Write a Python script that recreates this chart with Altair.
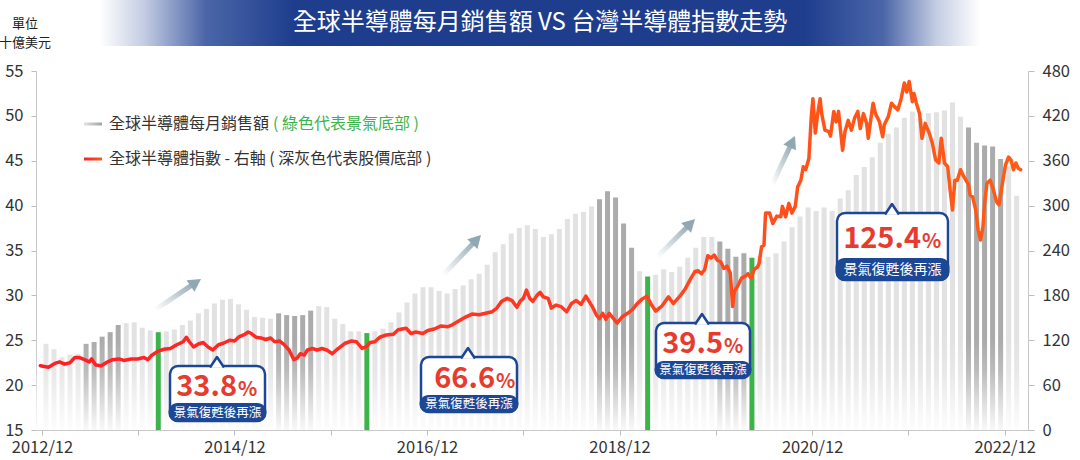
import json
import altair as alt
import pandas as pd

FONT = "Noto Sans CJK TC"
BLUE = "#1c4795"
RED = "#e63b2e"
LIGHT = "#e2e2e2"
DARK = "#ababab"
GREEN = "#3cb44b"

# ---------------- data ----------------
# bar months: 1 = first month after 2012/12
months = list(range(1, 123))
sales = [24.6, 24.0, 23.1, 23.4, 23.5, 24.6, 24.8, 25.4, 25.9, 26.7,
         26.9, 27.0, 26.4, 26.1, 25.9, 26.0, 26.2, 26.7, 27.2, 28.0,
         28.5, 29.1, 29.5, 29.6, 29.0, 28.4, 27.6, 27.5, 27.4, 28.0,
         27.8, 27.7, 27.8, 28.3, 28.8, 28.7, 27.4, 26.8, 26.0, 26.0,
         25.8, 26.0, 26.3, 27.0, 28.1, 29.2, 30.2, 30.9, 30.9, 30.5,
         30.2, 30.7, 31.1, 31.8, 32.4, 33.4, 34.8, 35.7, 36.9, 37.5,
         37.8, 37.4, 36.5, 36.8, 37.4, 38.5, 39.1, 39.3, 39.9, 40.7,
         41.6, 40.9, 38.0, 35.3, 32.7, 32.1, 32.3, 32.9, 32.6, 33.2,
         34.2, 35.3, 36.5, 36.5, 36.0, 35.2, 34.3, 34.7, 34.2, 34.4,
         34.3, 34.7, 36.0, 37.6, 38.8, 39.8, 39.4, 39.8, 39.4, 40.8,
         41.7, 43.4, 44.3, 45.4, 47.0, 48.0, 48.7, 49.8, 50.5, 49.7,
         50.3, 50.4, 50.6, 51.5, 49.9, 48.7, 47.0, 46.7, 46.6, 45.2,
         44.4, 41.1]
stock_bottom_months = [6, 7, 8, 9, 10, 30, 31, 32, 33, 34, 70, 71, 72, 73, 74,
                       85, 86, 87, 88, 116, 117, 118, 119, 120]
cycle_bottom_months = [15, 41, 76, 89]

# semiconductor index: (months after 2012/12, index value)
index_points = [
    (-0.2, 86), (0.8, 84), (1.6, 89), (2.2, 91), (2.8, 88), (3.5, 90), (4.1, 97), (4.6, 97),
    (5.3, 94), (5.9, 91), (6.2, 95), (6.7, 87), (7.4, 86), (8.0, 90), (8.8, 94), (9.6, 95),
    (10.2, 93), (11.1, 95), (11.9, 95), (12.7, 97), (13.2, 94), (13.7, 100), (14.4, 105),
    (15.2, 108), (16.0, 109), (16.8, 114), (17.6, 118), (18.0, 124), (18.3, 119), (18.9, 111),
    (19.5, 115), (20.1, 117), (20.7, 111), (21.3, 107), (22.0, 114), (22.6, 116), (23.4, 120),
    (24.0, 119), (24.6, 125), (25.3, 128), (25.7, 131), (26.1, 129), (26.7, 124), (27.3, 123),
    (27.9, 121), (28.5, 123), (29.0, 118), (29.6, 119), (30.2, 114), (30.8, 107), (31.4, 94),
    (31.8, 96), (32.2, 102), (32.7, 100), (33.1, 107), (33.7, 109), (34.3, 107), (34.9, 109),
    (35.5, 107), (36.2, 102), (36.6, 106), (37.2, 111), (37.8, 116), (38.6, 119), (39.2, 118),
    (39.9, 109), (40.4, 111), (40.9, 117), (41.5, 118), (42.1, 124), (42.9, 127), (43.8, 128),
    (44.4, 134), (45.4, 136), (46.0, 129), (46.6, 131), (47.5, 129), (48.1, 133), (48.9, 135),
    (49.7, 139), (50.6, 138), (51.2, 141), (52.0, 146), (52.8, 151), (53.6, 155), (54.5, 154),
    (55.3, 156), (56.1, 158), (56.7, 163), (57.3, 172), (58.0, 176), (58.6, 173), (59.2, 164),
    (59.6, 172), (60.0, 176), (60.4, 187), (60.8, 176), (61.2, 172), (61.7, 180), (62.1, 184),
    (62.5, 178), (63.1, 176), (63.5, 163), (64.1, 167), (64.7, 165), (65.4, 158), (66.0, 169),
    (66.6, 173), (67.2, 168), (67.8, 179), (68.2, 172), (68.6, 165), (69.1, 154), (69.5, 149),
    (69.9, 156), (70.3, 148), (70.7, 156), (71.1, 151), (71.7, 143), (72.3, 151), (73.0, 156),
    (73.6, 161), (74.2, 169), (74.8, 175), (75.4, 179), (76.0, 167), (76.5, 159), (77.3, 166),
    (78.1, 178), (78.7, 169), (79.6, 180), (80.2, 189), (80.8, 201), (81.4, 212), (81.8, 213),
    (82.2, 209), (82.6, 214), (83.0, 233), (83.4, 230), (83.8, 234), (84.2, 227), (84.6, 225),
    (85.0, 216), (85.4, 219), (85.8, 210), (86.1, 165), (86.3, 185), (86.7, 192), (87.2, 203),
    (87.6, 205), (88.0, 209), (88.4, 203), (88.8, 215), (89.2, 218), (89.4, 223), (89.7, 245),
    (90.0, 247), (90.2, 290), (90.7, 290), (91.1, 276), (91.6, 286), (92.1, 285), (92.3, 299),
    (92.7, 285), (93.1, 303), (93.5, 290), (93.9, 299), (94.2, 325), (94.6, 334), (94.9, 352),
    (95.2, 348), (95.6, 363), (95.9, 419), (96.1, 443), (96.4, 397), (96.7, 423), (97.0, 443),
    (97.2, 423), (97.6, 401), (98.1, 399), (98.3, 393), (98.7, 426), (99.0, 412), (99.3, 426),
    (99.8, 374), (100.1, 399), (100.5, 414), (100.9, 401), (101.3, 417), (101.7, 426),
    (102.0, 403), (102.4, 423), (102.8, 410), (103.0, 390), (103.3, 414), (103.6, 437),
    (103.9, 423), (104.4, 412), (104.8, 392), (105.0, 408), (105.5, 419), (105.9, 437),
    (106.3, 432), (106.7, 428), (107.1, 443), (107.5, 464), (107.8, 452), (108.1, 466),
    (108.5, 439), (108.7, 450), (109.0, 437), (109.4, 423), (109.7, 390), (110.1, 410),
    (110.6, 397), (111.0, 383), (111.4, 361), (111.8, 357), (112.1, 390), (112.5, 357),
    (112.9, 352), (113.2, 321), (113.5, 294), (113.8, 334), (114.1, 334), (114.5, 348),
    (114.9, 339), (115.5, 328), (115.7, 314), (116.0, 312), (116.4, 294), (116.7, 267),
    (117.0, 254), (117.3, 272), (117.5, 303), (117.8, 330), (118.2, 334), (118.6, 321),
    (119.0, 305), (119.3, 301), (119.7, 328), (120.1, 354), (120.5, 365), (120.8, 361),
    (121.1, 348), (121.4, 357), (121.7, 350), (122.0, 348),
]

tick_labels = ["2012/12", "2014/12", "2016/12", "2018/12", "2020/12", "2022/12"]
callout_values = ["33.8", "66.6", "39.5", "125.4"]
callout_caption = "景氣復甦後再漲"
title_text = "全球半導體每月銷售額 VS 台灣半導體指數走勢"
legend_sales = "全球半導體每月銷售額"
legend_sales_note = "( 綠色代表景氣底部 )"
legend_index = "全球半導體指數 - 右軸 ( 深灰色代表股價底部 )"

# ---------------- tables ----------------
kind = []
for m in months:
    if m in cycle_bottom_months:
        kind.append("cycle")
    elif m in stock_bottom_months:
        kind.append("stock")
    else:
        kind.append("normal")
bars_df = pd.DataFrame({"t": [m - 0.5 for m in months], "v": sales, "kind": kind})
line_df = pd.DataFrame(index_points, columns=["t", "idx"])
one = pd.DataFrame({"k": [0]})

# ---------------- layout helpers ----------------
W, H = 992, 359
OX, OY = 36, 71


def px(x):
    return alt.value(x - OX)


def py(y):
    return alt.value(y - OY)


def grad(stops, x1=0, y1=0, x2=1, y2=0):
    return {"gradient": "linear", "x1": x1, "y1": y1, "x2": x2, "y2": y2,
            "stops": [{"offset": o, "color": c} for o, c in stops]}


def rect(x1, y1, x2, y2, **mk):
    return alt.Chart(one).mark_rect(**mk).encode(x=px(x1), x2=px(x2), y=py(y1), y2=py(y2))


def text(x, y, s, **mk):
    mk.setdefault("font", FONT)
    return alt.Chart(one).mark_text(text=s, **mk).encode(x=px(x), y=py(y))


# ---------------- scales / axes ----------------
xscale = alt.Scale(domain=[-0.12, 122.29], nice=False, zero=False)
label_expr = ("datum.value % 24 === 0 ? " + json.dumps(tick_labels) +
              "[round(datum.value / 24)] : ''")
xaxis = alt.Axis(values=list(range(0, 121, 12)), labelExpr=label_expr, grid=False,
                 tickSize=5, tickColor="#bdbdbd", domainColor="#c8c8c8", labelFontSize=16.5,
                 labelColor="#333333", labelPadding=4, labelFlush=False, labelOverlap=False,
                 title=None, zindex=1)
yscale = alt.Scale(domain=[15, 55], nice=False, zero=False)
yaxis = alt.Axis(values=list(range(15, 56, 5)), orient="left", grid=False, tickSize=5,
                 tickColor="#bdbdbd", domainColor="#c8c8c8", labelFontSize=16.5,
                 labelColor="#333333", labelPadding=8, title=None)
y2scale = alt.Scale(domain=[0, 480], nice=False, zero=True)
y2axis = alt.Axis(values=list(range(0, 481, 60)), orient="right", grid=False, tickSize=6,
                  tickColor="#bdbdbd", domainColor="#c8c8c8", labelFontSize=16.5,
                  labelColor="#333333", labelPadding=8, title=None)

# ---------------- bars ----------------
bars = alt.Chart(bars_df).transform_filter(alt.datum.kind != "cycle").mark_bar(size=5).encode(
    x=alt.X("t:Q", scale=xscale, axis=xaxis),
    y=alt.Y("v:Q", scale=yscale, axis=yaxis),
    y2=alt.datum(15),
    color=alt.Color("kind:N", scale=alt.Scale(domain=["normal", "stock"], range=[LIGHT, DARK]),
                    legend=None),
)
fade = alt.Chart(one).mark_rect(
    fill=grad([(0, "rgba(255,255,255,0)"), (0.35, "rgba(255,255,255,0.2)"),
               (0.7, "rgba(255,255,255,0.6)"), (1, "rgba(255,255,255,0.93)")],
              x1=0, y1=0, x2=0, y2=1)
).encode(x=alt.value(0), x2=alt.value(W), y=alt.value(268), y2=alt.value(H))
green = alt.Chart(bars_df).transform_filter(alt.datum.kind == "cycle").mark_bar(
    size=5, color=GREEN).encode(
    x=alt.X("t:Q", scale=xscale),
    y=alt.Y("v:Q", scale=yscale),
    y2=alt.datum(15),
)
left = alt.layer(bars, fade, green)

line = alt.Chart(line_df).mark_line(
    stroke=grad([(0, "#ff1e26"), (0.55, "#ff3a22"), (0.8, "#ff5419"), (1, "#ff5a16")]),
    strokeWidth=3.5, strokeJoin="round", strokeCap="round",
).encode(
    x=alt.X("t:Q", scale=xscale),
    y=alt.Y("idx:Q", scale=y2scale, axis=y2axis),
)

# ---------------- decorations ----------------
decor = []
# title banner
decor.append(rect(100, 0, 980, 46, fill=grad([
    (0, "#ffffff"), (0.05, "#c3cce2"), (0.12, "#4b66a8"), (0.22, "#1e3d8d"),
    (0.80, "#1e3d8d"), (0.89, "#4b66a8"), (0.95, "#c3cce2"), (1, "#ffffff")])))
decor.append(text(540, 23, title_text, fontSize=24, color="white", align="center",
                  baseline="middle"))
# unit
decor.append(text(25, 24, "單位", fontSize=13, color="#222222", align="center", baseline="middle"))
decor.append(text(25, 43, "十億美元", fontSize=13, color="#222222", align="center",
                  baseline="middle"))
# legend
decor.append(rect(84, 122.5, 102, 125.5, fill=grad([(0, "#e2e2e2"), (1, "#9aa3ab")])))
decor.append(text(109, 124, legend_sales, fontSize=16, color="#333333", align="left",
                  baseline="middle"))
decor.append(text(273, 124, legend_sales_note, fontSize=16, color=GREEN, align="left",
                  baseline="middle"))
decor.append(rect(84, 157.5, 102, 160.5, fill=grad([(0, "#ff1e26"), (1, "#ff5a16")])))
decor.append(text(109, 159, legend_index, fontSize=16, color="#333333", align="left",
                  baseline="middle"))

# arrows: (tail x, tail y, head centre x, head centre y, angle)
ARROW = "M0,-1L1,0.8L-1,0.8Z"
arrows = [(155, 310, 195.2, 282.9, 56), (443, 275, 476.2, 240.1, 43.5),
          (657, 257, 690.1, 223.9, 45), (772, 185, 792, 142.3, 25)]
for tx, ty, hx, hy, ang in arrows:
    decor.append(alt.Chart(one).mark_rule(
        stroke=grad([(0, "#ffffff"), (1, "#91a8b3")], x1=0, y1=1, x2=1, y2=0),
        strokeWidth=5).encode(x=px(tx), y=py(ty), x2=px(hx), y2=py(hy)))
    decor.append(alt.Chart(one).mark_point(shape=ARROW, filled=True, fill="#91a8b3",
                                           size=196, angle=ang, opacity=1).encode(
        x=px(hx), y=py(hy)))

# callouts
NOTCH = "M-1,0.75L0,-0.75L1,0.75"
callouts = [
    # x1, x2, top, pill_top, bottom, notch_x, num_end, baseline, caption_y, caption_fs
    (170, 265, 366, 403, 421, 217, 237, 396, 412.5, 12.5),
    (421, 517, 357, 395, 412, 468, 495, 388, 404, 12.5),
    (656, 750, 323, 361, 378, 702, 723, 353, 370, 12.5),
    (837, 948, 213, 258, 280, 892, 921, 248, 269.5, 14),
]
for val, (x1, x2, top, ptop, bot, nx, nend, base, cy, cfs) in zip(callout_values, callouts):
    decor.append(rect(x1, top, x2, bot, fill="white", stroke=BLUE, strokeWidth=2.5,
                      cornerRadius=8))
    decor.append(alt.Chart(one).mark_point(shape=NOTCH, filled=True, fill="white", stroke=BLUE,
                                           strokeWidth=2.5, strokeJoin="round", size=196,
                                           opacity=1).encode(x=px(nx), y=py(top - 3.75)))
    decor.append(rect(x1 - 1.5, ptop, x2 + 1.5, bot + 1, fill=BLUE, cornerRadius=9))
    decor.append(text(nend, base, val, fontSize=29, fontWeight="bold", color=RED, align="right",
                      baseline="alphabetic"))
    decor.append(text(nend + 1, base, "%", fontSize=20, fontWeight="bold", color=RED,
                      align="left", baseline="alphabetic"))
    decor.append(text((x1 + x2) / 2, cy, callout_caption, fontSize=cfs, color="white",
                      align="center", baseline="middle"))

chart = alt.layer(left, line, *decor).resolve_scale(y="independent").properties(
    width=W, height=H,
    padding={"left": OX, "top": OY, "right": 1080 - OX - W, "bottom": 460 - OY - H},
    autosize=alt.AutoSizeParams(type="none"),
    background="white",
).configure_view(stroke=None).configure_axis(labelFont=FONT)

chart.save("out.html", embed_options={"renderer": "svg", "actions": False})
